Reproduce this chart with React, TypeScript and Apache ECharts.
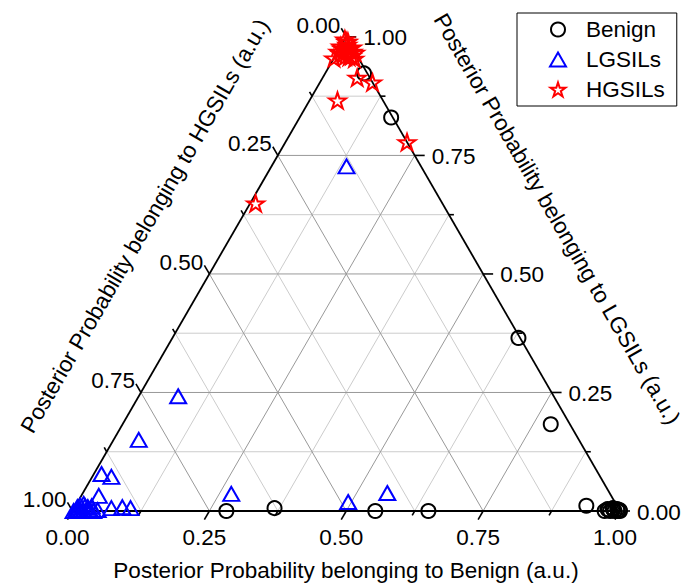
import React, { useEffect, useRef } from 'react';
import * as echarts from 'echarts';

const FONT = '"Liberation Sans", Arial, Helvetica, sans-serif';
const FONT_SIZE = 22.5;
const SQRT3_2 = Math.sqrt(3) / 2;

// Posterior probabilities per sample, as [benign, lgsil, hgsil]
const benignSamples: number[][] = [
  [0.071, 0.923, 0.006],
  [0.167, 0.83, 0.003],
  [0.632, 0.365, 0.003],
  [0.782, 0.183, 0.035],
  [0.281, 0.0, 0.719],
  [0.366, 0.006, 0.628],
  [0.553, 0.0, 0.447],
  [0.65, 0.0, 0.35],
  [0.933, 0.011, 0.056],
  [0.972, 0.0, 0.028],
  [0.975, 0.004, 0.021],
  [0.978, 0.002, 0.02],
  [0.982, 0.0, 0.018],
  [0.984, 0.006, 0.01],
  [0.986, 0.003, 0.011],
  [0.99, 0.0, 0.01],
  [0.993, 0.004, 0.003],
  [0.996, 0.0, 0.004],
  [0.998, 0.002, 0.0],
  [1.0, 0.0, 0.0],
];

const lgsilSamples: number[][] = [
  [0.137, 0.727, 0.136],
  [0.072, 0.242, 0.686],
  [0.046, 0.15, 0.804],
  [0.014, 0.078, 0.908],
  [0.035, 0.072, 0.893],
  [0.032, 0.032, 0.936],
  [0.013, 0.015, 0.972],
  [0.068, 0.006, 0.926],
  [0.087, 0.008, 0.905],
  [0.103, 0.006, 0.891],
  [0.002, 0.0, 0.998],
  [0.006, 0.003, 0.991],
  [0.01, 0.004, 0.986],
  [0.015, 0.0, 0.985],
  [0.02, 0.0, 0.98],
  [0.024, 0.008, 0.968],
  [0.027, 0.004, 0.969],
  [0.033, 0.0, 0.967],
  [0.038, 0.0, 0.962],
  [0.005, 0.008, 0.987],
  [0.008, 0.012, 0.98],
  [0.018, 0.01, 0.972],
  [0.03, 0.01, 0.96],
  [0.045, 0.002, 0.953],
  [0.272, 0.036, 0.692],
  [0.494, 0.019, 0.487],
  [0.556, 0.038, 0.406],
];

const hgsilSamples: number[][] = [
  [0.0, 0.995, 0.005],
  [0.005, 0.99, 0.005],
  [0.01, 0.984, 0.006],
  [0.027, 0.969, 0.004],
  [0.007, 0.965, 0.028],
  [0.033, 0.967, 0.0],
  [0.019, 0.959, 0.022],
  [0.001, 0.969, 0.03],
  [0.015, 0.975, 0.01],
  [0.0, 0.98, 0.02],
  [0.022, 0.978, 0.0],
  [0.004, 0.976, 0.02],
  [0.012, 0.963, 0.025],
  [0.026, 0.958, 0.016],
  [0.008, 0.99, 0.002],
  [0.03, 0.96, 0.01],
  [0.0, 0.955, 0.045],
  [0.038, 0.954, 0.008],
  [0.063, 0.914, 0.023],
  [0.096, 0.904, 0.0],
  [0.051, 0.866, 0.083],
  [0.222, 0.778, 0.0],
  [0.01, 0.649, 0.341],
];

const seriesNames = ['Benign', 'LGSILs', 'HGSILs'];
const majorTicks = [0, 0.25, 0.5, 0.75, 1];
const tickLabels = ['0.00', '0.25', '0.50', '0.75', '1.00'];
const minorTicks = [0.125, 0.375, 0.625, 0.875];
const gridSteps = [0.125, 0.25, 0.375, 0.5, 0.625, 0.75, 0.875];
const axisTitles = [
  'Posterior Probability belonging to Benign (a.u.)',
  'Posterior Probability belonging to LGSILs (a.u.)',
  'Posterior Probability belonging to HGSILs (a.u.)',
];

// ternary (benign at lower right, lgsil at top) -> cartesian
const toXY = (b: number, l: number): number[] => [b + l / 2, l * SQRT3_2];

// point on axis 0 (bottom, benign), 1 (right, lgsil), 2 (left, hgsil)
const axisPoint = (axis: number, v: number): number[] => {
  if (axis === 0) return toXY(v, 0);
  if (axis === 1) return toXY(1 - v, v);
  return toXY(0, 1 - v);
};

const TICK_DIR = [
  [-0.5, SQRT3_2],
  [1, 0],
  [-0.5, -SQRT3_2],
];

const STAR =
  'path://M50,0 L61.23,34.55 L97.55,34.55 L68.17,55.9 L79.39,90.45 L50,69.1 L20.61,90.45 L31.83,55.9 L2.45,34.55 L38.77,34.55 Z';

function buildOption() {
  const gridMajor: number[][] = [];
  const gridMinor: number[][] = [];
  gridSteps.forEach((v) => {
    const target = majorTicks.includes(v) ? gridMajor : gridMinor;
    const segs = [
      [toXY(v, 0), toXY(v, 1 - v)],
      [toXY(0, v), toXY(1 - v, v)],
      [toXY(1 - v, 0), toXY(0, 1 - v)],
    ];
    segs.forEach(([a, b]) => target.push([a[0], a[1], b[0], b[1]]));
  });
  const edges: number[][] = [
    [...toXY(0, 0), ...toXY(1, 0)],
    [...toXY(1, 0), ...toXY(0, 1)],
    [...toXY(0, 1), ...toXY(0, 0)],
  ];

  const ticks: number[][] = [];
  for (let axis = 0; axis < 3; axis++) {
    majorTicks.forEach((v, i) => {
      const p = axisPoint(axis, v);
      ticks.push([p[0], p[1], axis, 1, i]);
    });
    minorTicks.forEach((v) => {
      const p = axisPoint(axis, v);
      ticks.push([p[0], p[1], axis, 0, -1]);
    });
  }

  const segmentSeries = (name: string, data: number[][], stroke: string, lineWidth: number, z: number) => ({
    type: 'custom',
    name,
    coordinateSystem: 'cartesian2d',
    silent: true,
    z,
    data,
    renderItem: (_p: any, api: any) => {
      const a = api.coord([api.value(0), api.value(1)]);
      const b = api.coord([api.value(2), api.value(3)]);
      return {
        type: 'line',
        shape: { x1: a[0], y1: a[1], x2: b[0], y2: b[1] },
        style: { stroke, lineWidth, fill: null },
      };
    },
  });

  const textStyle = (text: string, align: string, vAlign: string) => ({
    text,
    fontSize: FONT_SIZE,
    fontFamily: FONT,
    fill: '#000',
    align,
    verticalAlign: vAlign,
    textAlign: align,
    textVerticalAlign: vAlign,
  });

  const tickSeries = {
    type: 'custom',
    name: 'ticks',
    coordinateSystem: 'cartesian2d',
    silent: true,
    z: 4,
    data: ticks,
    renderItem: (_p: any, api: any) => {
      const p = api.coord([api.value(0), api.value(1)]);
      const axis = api.value(2);
      const major = api.value(3) === 1;
      const labelIdx = api.value(4);
      const d = TICK_DIR[axis];
      const len = major ? 10 : 5;
      const ex = p[0] + d[0] * len;
      const ey = p[1] + d[1] * len;
      const children: any[] = [
        {
          type: 'line',
          shape: { x1: p[0], y1: p[1], x2: ex, y2: ey },
          style: { stroke: '#000', lineWidth: 1.6 },
        },
      ];
      if (major) {
        let lx = ex;
        let ly = ey;
        let align = 'center';
        let vAlign = 'middle';
        if (axis === 0) {
          ly = ey + 6;
          vAlign = 'top';
        } else if (axis === 1) {
          lx = ex + 7;
          ly = ey + 1;
          align = 'left';
        } else {
          lx = ex - 1;
          ly = ey - 3;
          align = 'right';
        }
        children.push({
          type: 'text',
          x: lx,
          y: ly,
          style: textStyle(tickLabels[labelIdx], align, vAlign),
        });
      }
      return { type: 'group', children };
    },
  };

  const scatterBase = (name: string, samples: number[][], symbol: string, size: any, color: string) => ({
    type: 'scatter',
    name,
    z: 5,
    clip: false,
    symbol,
    symbolSize: size,
    data: samples.map(([b, l]) => toXY(b, l)),
    itemStyle: { color: 'rgba(0,0,0,0)', borderColor: color, borderWidth: 2, opacity: 1 },
    emphasis: { disabled: true },
  });

  return {
    animation: false,
    backgroundColor: '#ffffff',
    grid: { left: 72.5, top: 36.9, width: 547.5, height: 474.1 },
    xAxis: { type: 'value', min: 0, max: 1, show: false },
    yAxis: { type: 'value', min: 0, max: SQRT3_2, show: false },
    legend: {
      data: seriesNames,
      orient: 'vertical',
      left: 517,
      top: 13,
      padding: [5, 12, 5, 32],
      itemWidth: 16,
      itemHeight: 14,
      itemGap: 7,
      borderColor: '#000',
      borderWidth: 1,
      borderRadius: 0,
      selectedMode: false,
      textStyle: {
        fontSize: FONT_SIZE,
        fontFamily: FONT,
        color: '#000',
        lineHeight: 22,
        padding: [0, 0, 0, 15],
      },
    },
    graphic: [
      {
        type: 'text',
        x: 346,
        y: 570,
        style: textStyle(axisTitles[0], 'center', 'middle'),
      },
      {
        type: 'text',
        x: 557,
        y: 219,
        rotation: -Math.PI / 3,
        style: textStyle(axisTitles[1], 'center', 'middle'),
      },
      {
        type: 'text',
        x: 145,
        y: 226,
        rotation: Math.PI / 3,
        style: textStyle(axisTitles[2], 'center', 'middle'),
      },
    ],
    series: [
      segmentSeries('gridMinor', gridMinor, '#cccccc', 1, 1),
      segmentSeries('gridMajor', gridMajor, '#999999', 1, 2),
      segmentSeries('edges', edges, '#000000', 1.8, 3),
      tickSeries,
      scatterBase('Benign', benignSamples, 'circle', 14, '#000000'),
      scatterBase('LGSILs', lgsilSamples, 'triangle', [16, 14], '#0000ff'),
      scatterBase('HGSILs', hgsilSamples, STAR, [17, 16], '#ff0000'),
    ],
  };
}

export default function App() {
  const ref = useRef<HTMLDivElement>(null);
  useEffect(() => {
    if (!ref.current) return;
    const chart = echarts.init(ref.current, undefined, { renderer: 'svg' });
    chart.setOption(buildOption() as any);
    return () => chart.dispose();
  }, []);
  return (
    <div
      ref={ref}
      style={{ position: 'fixed', left: 0, top: 0, width: 690, height: 588, background: '#fff' }}
    />
  );
}
